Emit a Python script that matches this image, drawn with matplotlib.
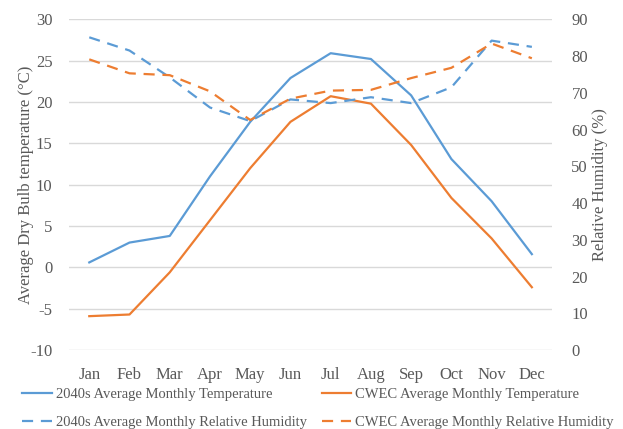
import matplotlib.pyplot as plt
import numpy as np

months = ['Jan', 'Feb', 'Mar', 'Apr', 'May', 'Jun',
          'Jul', 'Aug', 'Sep', 'Oct', 'Nov', 'Dec']

temp_2040s = [0.6, 3.0, 3.8, 11.0, 17.6, 22.9, 25.9, 25.2, 20.8, 13.1, 8.0, 1.6]
temp_cwec = [-5.9, -5.7, -0.6, 5.7, 12.0, 17.6, 20.7, 19.8, 14.8, 8.4, 3.5, -2.4]
rh_2040s = [85.1, 81.5, 74.2, 66.0, 62.3, 68.2, 67.2, 68.8, 67.2, 71.5, 84.2, 82.5]
rh_cwec = [79.1, 75.3, 74.8, 70.4, 62.6, 68.4, 70.6, 70.8, 74.0, 76.8, 83.4, 79.4]

blue = '#5B9BD5'
orange = '#ED7D31'
text_color = '#595959'

plt.rcParams['font.family'] = ['Liberation Serif', 'DejaVu Serif']
plt.rcParams['axes.unicode_minus'] = False

fig = plt.figure(figsize=(6.23, 4.29), dpi=100)
ax = fig.add_axes([0.111, 0.184, 0.775, 0.771])
ax2 = ax.twinx()

x = np.arange(len(months))
l1, = ax.plot(x, temp_2040s, color=blue, lw=1.6, label='2040s Average Monthly Temperature')
l2, = ax.plot(x, temp_cwec, color=orange, lw=1.6, label='CWEC Average Monthly Temperature')
l3, = ax2.plot(x, rh_2040s, color=blue, lw=1.6, dashes=(5, 3.5),
               label='2040s Average Monthly Relative Humidity')
l4, = ax2.plot(x, rh_cwec, color=orange, lw=1.6, dashes=(5, 3.5),
               label='CWEC Average Monthly Relative Humidity')

ax.set_xlim(-0.5, 11.5)
ax.set_ylim(-10, 30)
ax.set_yticks(range(-10, 31, 5))
ax2.set_ylim(0, 90)
ax2.set_yticks(range(0, 91, 10))
ax.set_xticks(x)
ax.set_xticklabels(months)

ax.grid(axis='y', color='#D9D9D9', lw=1)
ax.set_axisbelow(True)
for a in (ax, ax2):
    for s in a.spines.values():
        s.set_visible(False)
    a.tick_params(length=0, colors=text_color, labelsize=12)
ax.tick_params(axis='y', pad=12)
ax2.tick_params(axis='y', pad=14)
ax.tick_params(axis='x', pad=12)

ax.set_ylabel('Average Dry Bulb temperature (°C)', color=text_color, fontsize=12, labelpad=-3)
ax2.set_ylabel('Relative Humidity (%)', color=text_color, fontsize=12, labelpad=3)

leg = fig.legend(handles=[l1, l3, l2, l4], ncol=2, loc='lower left',
                 bbox_to_anchor=(0.015, -0.03), frameon=False, fontsize=10.5,
                 handlelength=2.0, handletextpad=0.3, columnspacing=1.0,
                 labelspacing=1.0)
for t in leg.get_texts():
    t.set_color(text_color)

fig.savefig('out.png', dpi=100)
